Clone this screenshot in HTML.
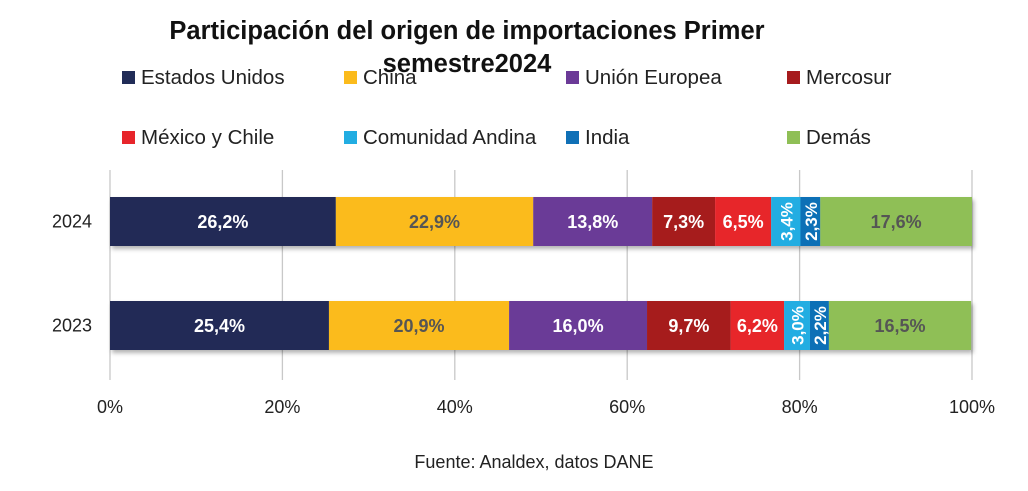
<!DOCTYPE html>
<html><head><meta charset="utf-8"><style>
body{margin:0;background:#fff;}
svg text{font-family:"Liberation Sans",sans-serif;}
</style></head><body>
<svg id="chart" width="1028" height="486" viewBox="0 0 1028 486" xmlns="http://www.w3.org/2000/svg">
<defs><filter id="sh" x="-5%" y="-20%" width="110%" height="150%"><feDropShadow dx="2" dy="3" stdDeviation="2" flood-color="#000" flood-opacity="0.3"/></filter></defs>
<g font-weight="bold" font-size="25.5" fill="#111" text-anchor="middle">
<text x="467" y="39">Participación del origen de importaciones Primer</text>
<text x="467" y="72">semestre2024</text>
</g>
<g id="legend"></g>
<g id="grid"></g>
<g id="bars"></g>
<g id="axes"></g>
<text x="534" y="468" text-anchor="middle" font-size="18" fill="#222">Fuente: Analdex, datos DANE</text>
</svg>
<script>
const categories=["2024","2023"];
const seriesNames=["Estados Unidos","China","Unión Europea","Mercosur","México y Chile","Comunidad Andina","India","Demás"];
const values2024=[26.2,22.9,13.8,7.3,6.5,3.4,2.3,17.6];
const values2023=[25.4,20.9,16.0,9.7,6.2,3.0,2.2,16.5];
const valueLabels2024=["26,2%","22,9%","13,8%","7,3%","6,5%","3,4%","2,3%","17,6%"];
const valueLabels2023=["25,4%","20,9%","16,0%","9,7%","6,2%","3,0%","2,2%","16,5%"];
const ticks=[0,20,40,60,80,100];
const tickLabels=["0%","20%","40%","60%","80%","100%"];
const colors=["#212c57","#fbbb1c","#6b3a97","#a61b1d","#e7252b","#22ade2","#1070b6","#8fbf56"];
const labelColors=["#fff","#555","#fff","#fff","#fff","#fff","#fff","#555"];
const NS="http://www.w3.org/2000/svg";
const x0=110,x1=972;
const xs=v=>x0+(x1-x0)*v/100;
const rowY=[197,301],barH=49;
function mk(t,a,p){const e=document.createElementNS(NS,t);for(const k in a)e.setAttribute(k,a[k]);p.appendChild(e);return e;}
const grid=document.getElementById('grid'),axes=document.getElementById('axes'),bars=document.getElementById('bars'),legend=document.getElementById('legend');
ticks.forEach((t,i)=>{
 const l=mk('line',{x1:xs(t),x2:xs(t),y1:170,y2:380,stroke:'#c8c8c8','stroke-width':1.3},grid);
 
 
 const tx=mk('text',{x:xs(t),y:413,'text-anchor':'middle','font-size':18,fill:'#222'},axes);
 tx.textContent=tickLabels[i];
 
 
});
const allVals=[values2024,values2023],allLabels=[valueLabels2024,valueLabels2023];
categories.forEach((c,r)=>{
 const y=rowY[r];
 const yl=mk('text',{x:92,y:y+barH/2+6,'text-anchor':'end','font-size':18,fill:'#222'},axes);
 yl.textContent=c;
 
 
 const g=mk('g',{filter:'url(#sh)'},bars);
 
 
 let cum=0;
 allVals[r].forEach((v,i)=>{
  const a=xs(cum),b=xs(cum+v);cum+=v;
  const rc=mk('rect',{x:a,y:y,width:b-a,height:barH,fill:colors[i]},g);
  
  
  const cx=(a+b)/2,cy=y+barH/2;
  const narrow=v<4;
  const t=mk('text',{x:cx,y:cy+6.5,'text-anchor':'middle','font-size':narrow?17:18,'font-weight':'bold',fill:labelColors[i]},bars);
  if(narrow){t.setAttribute('transform','rotate(-90 '+cx+' '+cy+')');}
  t.textContent=allLabels[r][i];
  
  
 });
});
const lx=[122,344,566,787],ly=[77,137];
seriesNames.forEach((n,i)=>{
 const x=lx[i%4],y=ly[Math.floor(i/4)];
 const g=mk('g',{},legend);
 
 
 mk('rect',{x:x,y:y-6,width:13,height:13,fill:colors[i]},g);
 const t=mk('text',{x:x+19,y:y+7,'font-size':20.5,fill:'#222'},g);
 t.textContent=n;
});
</script>
</body></html>
